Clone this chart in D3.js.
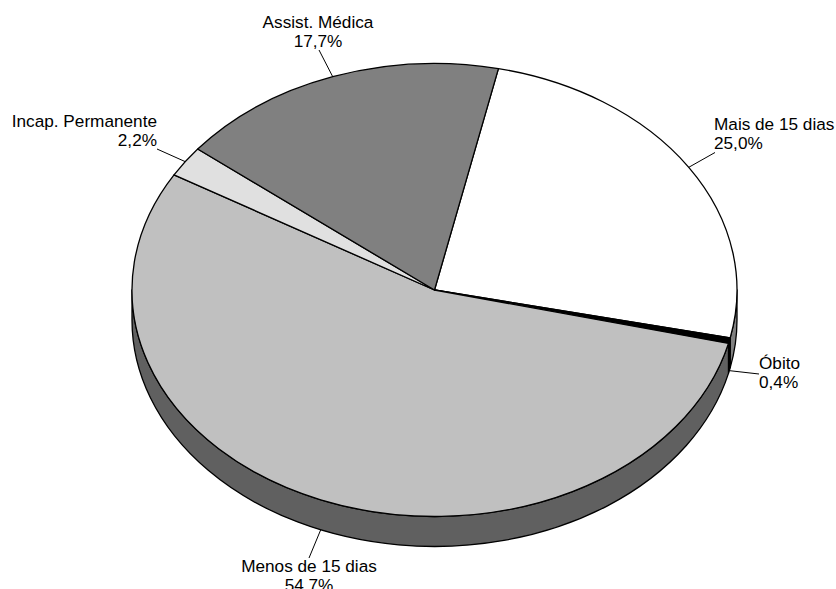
<!DOCTYPE html>
<html>
<head>
<meta charset="utf-8">
<script src="https://cdn.jsdelivr.net/npm/d3@7"></script>
<style>
  html, body { margin: 0; padding: 0; background: #fff; }
  text { font-family: "Liberation Sans", Arial, sans-serif; font-size: 17.2px; fill: #000; }
</style>
</head>
<body>
<script>
// dados
const categories = ['Mais de 15 dias', 'Óbito', 'Menos de 15 dias', 'Incap. Permanente', 'Assist. Médica'];
const values = [25.0, 0.4, 54.7, 2.2, 17.7];

// estilo de cada fatia
const topColors = ['#ffffff', '#000000', '#c0c0c0', '#e0e0e0', '#808080'];
const sideColors = ['#808080', '#000000', '#606060', '#707070', '#404040'];

// onde fica o texto: [x, y da primeira linha, ancora, x2 e y2 da linha de chamada]
const labelLayout = [
  [714, 130, 'start', 715, 152.5],
  [759, 369, 'start', 759, 374],
  [309, 572, 'middle', 309, 558],
  [157, 127, 'end', 157, 149],
  [318, 28, 'middle', 319, 50]
];

const width = 836;
const height = 589;
const cx = 434.5;
const cy = 290;
const rx = 302.5;
const ry = 226.5;
const depth = 30;
const startAngle = 12.2 * Math.PI / 180;

const svg = d3.select('body')
  .append('svg')
  .attr('width', width)
  .attr('height', height)
  .style('display', 'block');

const pie = d3.pie()
  .sort(null)
  .startAngle(startAngle)
  .endAngle(startAngle + 2 * Math.PI);

const arcs = pie(values).map((d, i) => ({ ...d, name: categories[i], i: i }));

// angulo (a partir do norte, sentido horario) para o ponto na elipse
const px = a => cx + rx * Math.sin(a);
const py = a => cy - ry * Math.cos(a);

function sidePath(d) {
  // so a parte da frente da fatia aparece
  const a0 = Math.max(d.startAngle, Math.PI / 2);
  const a1 = Math.min(d.endAngle, Math.PI * 1.5);
  if (a1 <= a0) return null;
  const large = a1 - a0 > Math.PI ? 1 : 0;
  return `M${px(a0)},${py(a0)}`
    + `A${rx},${ry} 0 ${large} 1 ${px(a1)},${py(a1)}`
    + `L${px(a1)},${py(a1) + depth}`
    + `A${rx},${ry} 0 ${large} 0 ${px(a0)},${py(a0) + depth}Z`;
}

svg.append('g')
  .selectAll('path')
  .data(arcs.filter(d => sidePath(d)))
  .join('path')
  .attr('d', sidePath)
  .attr('fill', d => sideColors[d.i])
  .attr('stroke', '#000')
  .attr('stroke-width', 1.3)
  .attr('stroke-linejoin', 'round');

const arc = d3.arc().innerRadius(0).outerRadius(rx);

svg.append('g')
  .attr('transform', `translate(${cx},${cy}) scale(1,${ry / rx})`)
  .selectAll('path')
  .data(arcs)
  .join('path')
  .attr('d', arc)
  .attr('fill', d => topColors[d.i])
  .attr('stroke', '#000')
  .attr('stroke-width', 1.3)
  .attr('stroke-linejoin', 'round')
  .attr('vector-effect', 'non-scaling-stroke');

// linhas de chamada
svg.append('g')
  .selectAll('line')
  .data(arcs)
  .join('line')
  .attr('x1', d => px((d.startAngle + d.endAngle) / 2))
  .attr('y1', d => {
    const a = (d.startAngle + d.endAngle) / 2;
    const front = Math.cos(a) < 0;
    return py(a) + (front ? depth : 0);
  })
  .attr('x2', d => labelLayout[d.i][3])
  .attr('y2', d => labelLayout[d.i][4])
  .attr('stroke', '#000')
  .attr('stroke-width', 1);

const fmt = v => v.toFixed(1).replace('.', ',') + '%';

const labels = svg.append('g')
  .selectAll('text')
  .data(arcs)
  .join('text')
  .attr('text-anchor', d => labelLayout[d.i][2])
  .attr('x', d => labelLayout[d.i][0])
  .attr('y', d => labelLayout[d.i][1]);

labels.append('tspan')
  .attr('x', d => labelLayout[d.i][0])
  .text(d => d.name);

labels.append('tspan')
  .attr('x', d => labelLayout[d.i][0])
  .attr('dy', 18.7)
  .text(d => fmt(d.data));
</script>
</body>
</html>
